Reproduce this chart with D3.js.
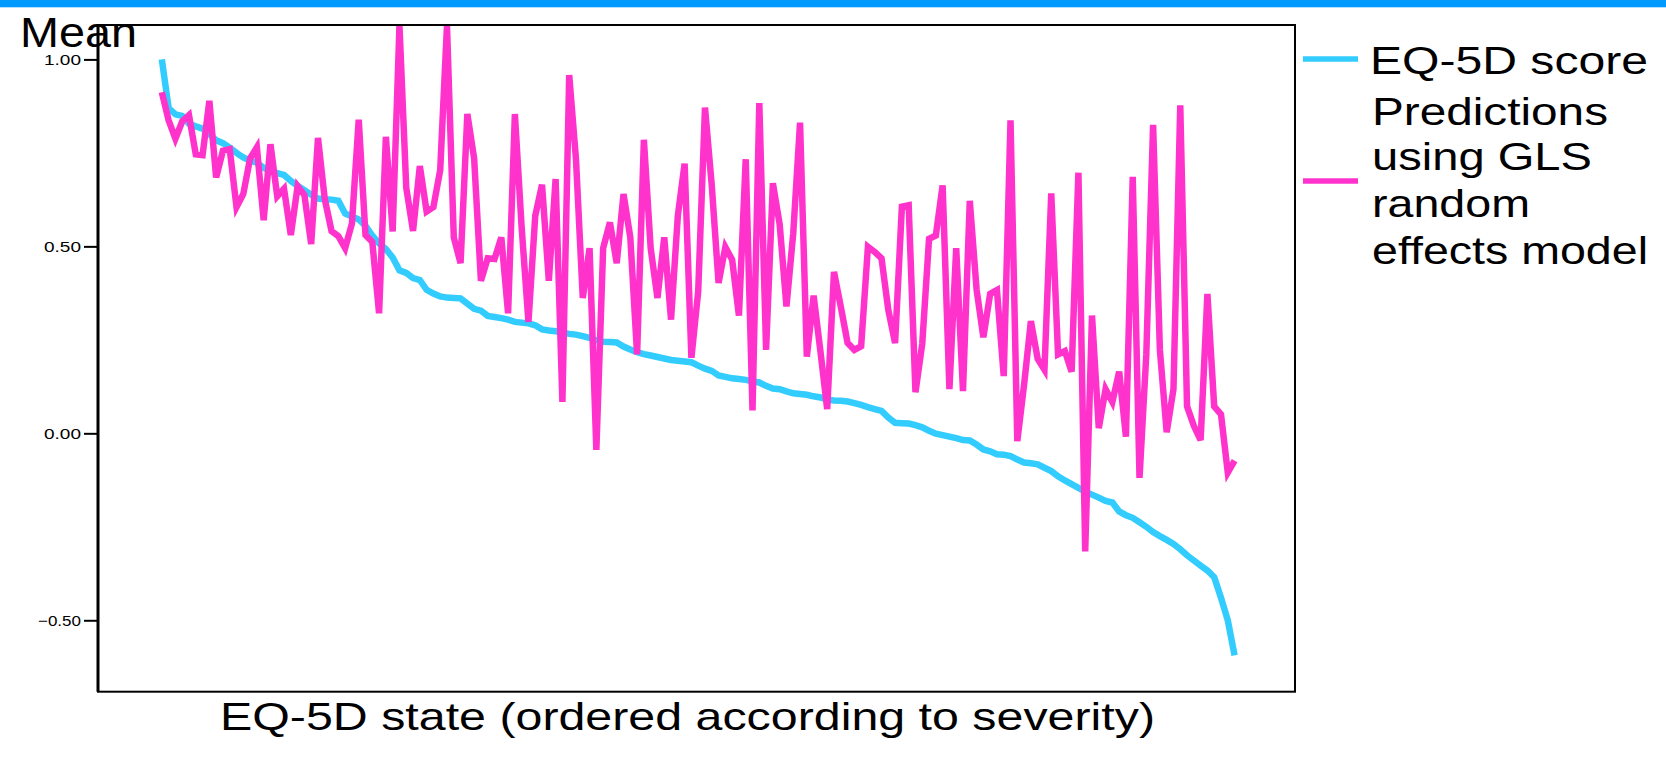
<!DOCTYPE html>
<html><head><meta charset="utf-8">
<script src="https://cdn.jsdelivr.net/npm/d3@7"></script>
<style>
body{margin:0;background:#fff;}
svg{display:block;font-family:"Liberation Sans",Arial,sans-serif;}
</style></head><body>
<svg id="chart" width="1666" height="757"></svg>
<script>
// EQ-5D states ordered by severity (observed mean EQ-5D score)
const eq5dScore = [1.00,0.87,0.853,0.849,0.828,0.821,0.815,0.80,0.784,0.776,
0.764,0.750,0.738,0.729,0.724,0.710,0.701,0.696,0.691,0.675,
0.662,0.650,0.638,0.628,0.626,0.625,0.622,0.588,0.580,0.572,
0.555,0.529,0.508,0.493,0.470,0.436,0.429,0.415,0.410,0.384,
0.374,0.366,0.363,0.362,0.361,0.347,0.333,0.328,0.314,0.311,
0.308,0.304,0.298,0.296,0.294,0.289,0.278,0.275,0.273,0.270,
0.266,0.264,0.260,0.255,0.249,0.245,0.244,0.243,0.232,0.224,
0.217,0.212,0.208,0.204,0.200,0.196,0.194,0.192,0.190,0.181,
0.173,0.167,0.155,0.151,0.147,0.145,0.143,0.139,0.136,0.127,
0.120,0.118,0.112,0.107,0.105,0.103,0.099,0.096,0.090,0.088,
0.087,0.085,0.081,0.076,0.070,0.065,0.060,0.042,0.028,0.027,
0.026,0.022,0.016,0.007,-0.001,-0.005,-0.009,-0.013,-0.018,-0.019,
-0.030,-0.043,-0.048,-0.056,-0.057,-0.061,-0.070,-0.078,-0.080,-0.083,
-0.092,-0.101,-0.115,-0.126,-0.136,-0.146,-0.156,-0.164,-0.172,-0.181,
-0.185,-0.209,-0.219,-0.226,-0.238,-0.250,-0.264,-0.275,-0.285,-0.296,
-0.310,-0.326,-0.340,-0.354,-0.367,-0.385,-0.44,-0.50,-0.594];

// Predictions using GLS random effects model
const glsPredictions = [0.912,0.837,0.788,0.834,0.851,0.746,0.744,0.889,0.684,0.756,
0.760,0.605,0.640,0.735,0.765,0.570,0.773,0.634,0.654,0.530,
0.661,0.637,0.506,0.790,0.626,0.541,0.527,0.495,0.561,0.839,
0.530,0.512,0.321,0.793,0.540,1.09,0.657,0.541,0.715,0.593,
0.605,0.704,1.09,0.524,0.455,0.854,0.735,0.408,0.468,0.466,
0.524,0.321,0.854,0.55,0.298,0.582,0.665,0.408,0.680,0.084,
0.958,0.733,0.362,0.495,-0.044,0.495,0.564,0.455,0.640,0.524,
0.211,0.785,0.495,0.362,0.524,0.304,0.582,0.721,0.202,0.379,
0.871,0.663,0.402,0.498,0.464,0.315,0.733,0.061,0.883,0.223,
0.669,0.559,0.339,0.535,0.831,0.205,0.368,0.22,0.065,0.432,
0.339,0.242,0.223,0.233,0.499,0.485,0.468,0.330,0.241,0.606,
0.610,0.110,0.240,0.520,0.529,0.663,0.118,0.495,0.113,0.622,
0.385,0.257,0.373,0.383,0.153,0.837,-0.021,0.130,0.300,0.199,
0.170,0.642,0.211,0.220,0.165,0.697,-0.316,0.315,0.014,0.118,
0.084,0.165,-0.009,0.686,-0.119,0.211,0.825,0.223,0.003,0.118,
0.877,0.072,0.020,-0.018,0.373,0.072,0.051,-0.105,-0.073];

const states = eq5dScore.map((d, i) => i + 1);
const yTicks = [-0.5, 0.0, 0.5, 1.0];
const seriesNames = ["EQ-5D score", "Predictions using GLS random effects model"];
const seriesColors = ["#33ccff", "#ff33cc"];

const svg = d3.select("#chart");
const W = 1666, H = 757;
const plot = {left: 98, right: 1295, top: 25, bottom: 691.7};

// top banner
svg.append("rect").attr("x", 0).attr("y", 0).attr("width", W).attr("height", 7.3).attr("fill", "#0099ff");

const x = d3.scaleLinear().domain([states[0] - 9.4, states[states.length - 1] + 8.9]).range([plot.left, plot.right]);
const y = d3.scaleLinear().domain([-0.691, 1.092]).range([plot.bottom, plot.top]);

svg.append("defs").append("clipPath").attr("id", "clip")
  .append("rect").attr("x", plot.left).attr("y", plot.top)
  .attr("width", plot.right - plot.left).attr("height", plot.bottom - plot.top);

const line = d3.line().x((d, i) => x(states[i])).y(d => y(d));
const g = svg.append("g").attr("clip-path", "url(#clip)");
g.append("path").datum(eq5dScore).attr("d", line)
  .attr("fill", "none").attr("stroke", seriesColors[0]).attr("stroke-width", 6.5).attr("stroke-linejoin", "miter");
g.append("path").datum(glsPredictions).attr("d", line)
  .attr("fill", "none").attr("stroke", seriesColors[1]).attr("stroke-width", 6.5).attr("stroke-linejoin", "miter");

// frame
svg.append("rect").attr("x", plot.left).attr("y", plot.top)
  .attr("width", plot.right - plot.left).attr("height", plot.bottom - plot.top)
  .attr("fill", "none").attr("stroke", "#000").attr("stroke-width", 2);
svg.append("line").attr("x1", plot.left).attr("x2", plot.left).attr("y1", plot.top).attr("y2", plot.bottom)
  .attr("stroke", "#000").attr("stroke-width", 3);

// y axis
const yAxis = d3.axisLeft(y).tickValues(yTicks).tickFormat(d3.format(".2f")).tickSize(14).tickPadding(3);
const ya = svg.append("g").attr("transform", `translate(${plot.left},0)`).call(yAxis);
ya.select(".domain").remove();
ya.selectAll(".tick line").attr("stroke", "#000").attr("stroke-width", 2);
ya.selectAll(".tick text")
  .attr("font-family", "'Liberation Sans', Arial, sans-serif")
  .attr("font-size", 15).attr("fill", "#000").attr("dy", "0.35em")
  .attr("textLength", d => d < 0 ? 43 : 37).attr("lengthAdjust", "spacingAndGlyphs");

// y title
svg.append("text").attr("x", 20).attr("y", 46.5).attr("font-size", 42)
  .attr("textLength", 117).attr("lengthAdjust", "spacingAndGlyphs").text("Mean");

// x title
svg.append("text").attr("x", 220).attr("y", 730).attr("font-size", 39.5)
  .attr("textLength", 935).attr("lengthAdjust", "spacingAndGlyphs")
  .text("EQ-5D state (ordered according to severity)");

// legend
const lg = svg.append("g");
lg.append("line").attr("x1", 1303).attr("x2", 1358).attr("y1", 59).attr("y2", 59)
  .attr("stroke", seriesColors[0]).attr("stroke-width", 5.5);
lg.append("line").attr("x1", 1303).attr("x2", 1358).attr("y1", 181).attr("y2", 181)
  .attr("stroke", seriesColors[1]).attr("stroke-width", 5.5);
lg.append("text").attr("x", 1370).attr("y", 74).attr("font-size", 39.5)
  .attr("textLength", 278).attr("lengthAdjust", "spacingAndGlyphs").text(seriesNames[0]);
const legLines = [["Predictions", 125, 236], ["using GLS", 170, 220], ["random", 217, 158], ["effects model", 264, 276]];
legLines.forEach(([t, yy, w]) => {
  lg.append("text").attr("x", 1372).attr("y", yy).attr("font-size", 39.5)
    .attr("textLength", w).attr("lengthAdjust", "spacingAndGlyphs").text(t);
});
</script>
</body></html>
